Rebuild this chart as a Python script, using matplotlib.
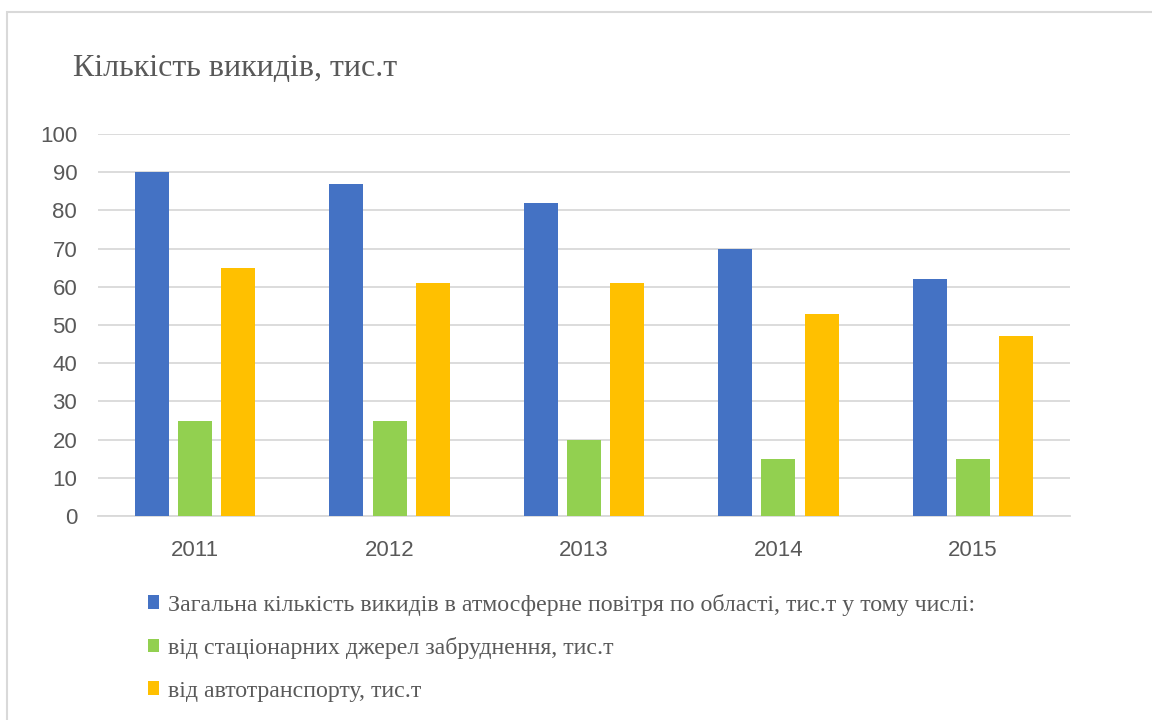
import matplotlib.pyplot as plt
import numpy as np
from matplotlib.patches import Rectangle

years = ['2011', '2012', '2013', '2014', '2015']
total = [90, 87, 82, 70, 62]
stationary = [25, 25, 20, 15, 15]
transport = [65, 61, 61, 53, 47]
labels = ['Загальна кількість викидів в атмосферне повітря по області, тис.т у тому числі:',
          'від стаціонарних джерел забруднення, тис.т',
          'від автотранспорту, тис.т']
colors = ['#4472C4', '#92D050', '#FFC000']

fig = plt.figure(figsize=(11.52, 7.2), dpi=100)
ax = fig.add_axes([98 / 1152, 1 - 516 / 720, 972 / 1152, 382 / 720])

# chart frame
fig.patches.append(Rectangle((7 / 1152, -0.1), 1.2, 1 - 12 / 720 + 0.1, transform=fig.transFigure,
                             fill=False, edgecolor='#d9d9d9', linewidth=1.5))

x = np.arange(len(years))
w = 0.175
step = 0.222
handles = []
for i, (vals, c) in enumerate(zip([total, stationary, transport], colors)):
    h = ax.bar(x + (i - 1) * step, vals, width=w, color=c, zorder=3)
    handles.append(h)

ax.set_xlim(-0.5, len(years) - 0.5)
ax.set_ylim(0, 100)
ax.set_yticks(range(0, 101, 10))
ax.set_xticks(x)
ax.set_xticklabels(years)
ax.grid(axis='y', color='#d9d9d9', linewidth=1.3, zorder=0)
for s in ['top', 'right', 'left']:
    ax.spines[s].set_visible(False)
ax.spines['bottom'].set_color('#d9d9d9')
ax.spines['bottom'].set_linewidth(1.3)
ax.tick_params(length=0, labelsize=16, labelcolor='#595959', labelfontfamily='Liberation Sans')
ax.tick_params(axis='y', pad=15)
ax.tick_params(axis='x', pad=17)

fig.text(73 / 1152, 1 - 68 / 720, 'Кількість викидів, тис.т', fontsize=23, family='Liberation Serif',
         color='#595959', va='center', ha='left')

leg = fig.legend(handles, labels, loc='upper left', bbox_to_anchor=(126 / 1152, 1 - 572 / 720),
                 frameon=False, prop={'family': 'Liberation Serif', 'size': 17.2},
                 handlelength=0.5, handleheight=0.5, handletextpad=0.35, labelspacing=0.9,
                 labelcolor='#595959')

fig.savefig('out.png', dpi=100)
